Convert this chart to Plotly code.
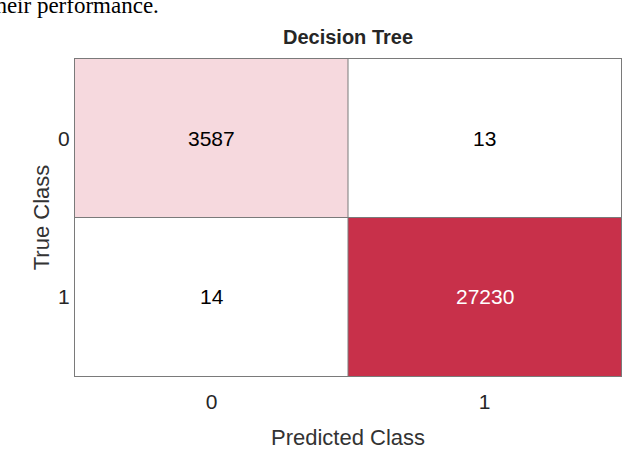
import plotly.graph_objects as go

# confusion matrix values (rows = true class, cols = predicted class)
classes = ["0", "1"]
counts = [[3587, 13],
          [14, 27230]]

fig = go.Figure()

fig.add_trace(go.Heatmap(
    z=counts, x=classes, y=classes,
    colorscale=[[0, "#ffffff"], [0.13, "#F6D9DE"], [1, "#C8304A"]],
    zmin=0, zmax=max(max(r) for r in counts),
    showscale=False, hoverinfo="skip"
))

# cell labels
zmax = max(max(r) for r in counts)
for i, row in enumerate(counts):
    for j, v in enumerate(row):
        fig.add_annotation(
            x=classes[j], y=classes[i], text=str(v), showarrow=False,
            font=dict(family="Liberation Sans", size=21,
                      color="white" if v > zmax / 2 else "black")
        )

# cell divider lines
fig.add_vline(x=0.5, line_color="#7a7a7a", line_width=1)
fig.add_hline(y=0.5, line_color="#7a7a7a", line_width=1)

# clipped text of the surrounding page
fig.add_annotation(
    xref="paper", yref="paper", x=-0.161, y=1.122,
    xanchor="left", yanchor="bottom", showarrow=False,
    text="their performance.",
    font=dict(family="Liberation Serif", size=23, color="black")
)

fig.update_layout(
    width=622, height=450,
    margin=dict(l=75, r=1, t=59, b=74),
    paper_bgcolor="white", plot_bgcolor="white",
    title=dict(text="<b>Decision Tree</b>", x=0.5595, xanchor="center",
               y=0.918, yanchor="middle",
               font=dict(family="Liberation Sans", size=20, color="#262626")),
    xaxis=dict(
        automargin=False,
        title=dict(text="Predicted Class", standoff=18,
                   font=dict(family="Liberation Sans", size=22, color="#333333")),
        tickfont=dict(family="Liberation Sans", size=21, color="#262626"),
        ticks="outside", ticklen=7, tickcolor="rgba(0,0,0,0)",
        showline=True, linecolor="#7a7a7a", mirror=True, showgrid=False,
        zeroline=False
    ),
    yaxis=dict(
        automargin=False,
        title=dict(text="True Class", standoff=2,
                   font=dict(family="Liberation Sans", size=22, color="#333333")),
        tickfont=dict(family="Liberation Sans", size=21, color="#262626"),
        autorange="reversed",
        showline=True, linecolor="#7a7a7a", mirror=True, showgrid=False,
        zeroline=False
    ),
)

# drop the page's default body margin so the 622x450 figure fills the window
fig.write_html("out.html", config={"displayModeBar": False},
               post_script="document.body.style.margin='0';")
